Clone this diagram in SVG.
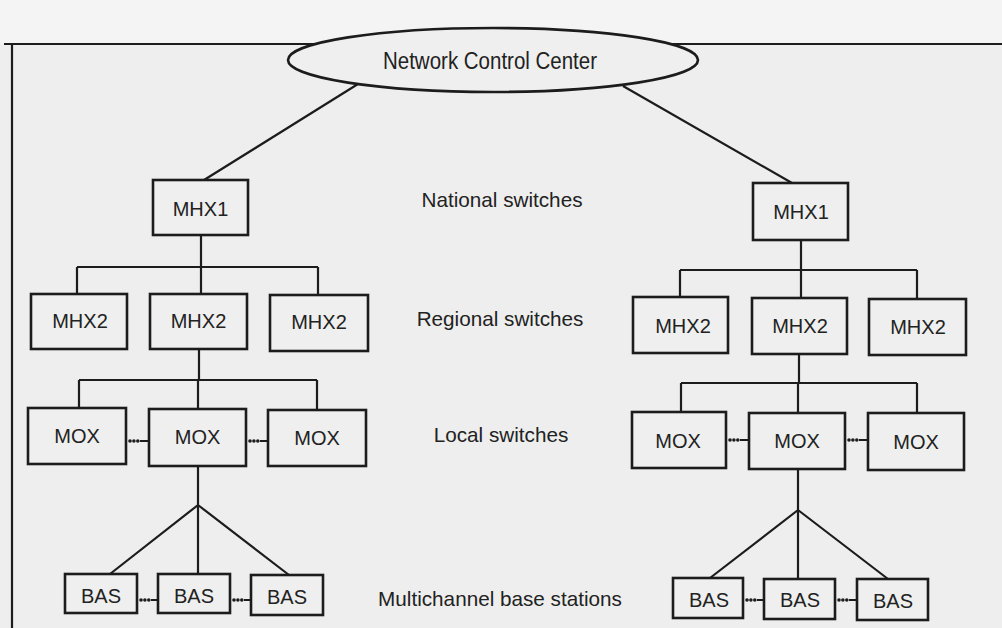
<svg xmlns="http://www.w3.org/2000/svg" width="1002" height="628" viewBox="0 0 1002 628">
<style>
.bg{fill:#eeeeee}
.box{fill:#efefef;stroke:#1c1c1c;stroke-width:2.6}
.ln{fill:none;stroke:#1c1c1c;stroke-width:2.2}
.dot{fill:#1c1c1c}
.nl{font-family:"Liberation Sans",Arial,sans-serif;font-size:20px;fill:#222;text-anchor:middle}
.lv{font-family:"Liberation Sans",Arial,sans-serif;font-size:20.7px;fill:#222;text-anchor:middle}
</style>
<defs>
<g id="dot3">
<circle class="dot" cx="0" cy="0" r="1.8"/>
<circle class="dot" cx="3.9" cy="0" r="1.8"/>
<circle class="dot" cx="7.8" cy="0" r="1.8"/>
</g>
</defs>
<rect class="bg" x="0" y="0" width="1002" height="628"/>
<rect x="0" y="0" width="1002" height="44" fill="#f4f4f4"/>
<g id="frame">
<path class="ln" d="M4 44 H1002 M12 44 V628" stroke-width="2"/>
</g>
<g id="connectors">
<path class="ln" d="M358 84 L204 180 M623 86 L792 183"/>
<path class="ln" d="M201 235 V267 M77 267 H318 M77 267 V294 M201 267 V294 M318 267 V295"/>
<path class="ln" d="M199 349 V380 M79 380 H317 M79 380 V408 M198 380 V409 M317 380 V410"/>
<path class="ln" d="M198 466 V505 L110 574 M198 505 V574 M198 505 L289 575"/>
<path class="ln" d="M801 240 V270 M680 270 H917 M680 270 V297 M801 270 V298 M917 270 V299"/>
<path class="ln" d="M799 354 V383 M681 383 H917 M681 383 V412 M798 383 V413 M917 383 V413"/>
<path class="ln" d="M798 469 V510 L710 578 M798 510 V579 M798 510 L888 579"/>
<use href="#dot3" x="130" y="441"/>
<use href="#dot3" x="250" y="441"/>
<use href="#dot3" x="730" y="440"/>
<use href="#dot3" x="849" y="440"/>
<use href="#dot3" x="141" y="600"/>
<use href="#dot3" x="234" y="600"/>
<use href="#dot3" x="747" y="600"/>
<use href="#dot3" x="839" y="600"/>
<path class="ln" d="M140 441 H149 M260 441 H268 M740 440 H749 M859 440 H868 M151 600 H158 M244 600 H251 M757 600 H764 M849 600 H857"/>
</g>
<g id="ncc">
<ellipse class="box" cx="493" cy="60" rx="205" ry="32"/>
<text x="383" y="69" font-family="'Liberation Sans',Arial,sans-serif" font-size="23" fill="#222" textLength="214" lengthAdjust="spacingAndGlyphs">Network Control Center</text>
</g>
<g id="mhx1-left"><rect class="box" x="153" y="180" width="95" height="55"/><text class="nl" x="200.5" y="216">MHX1</text></g>
<g id="mhx2-left-1"><rect class="box" x="31" y="294" width="96" height="55"/><text class="nl" x="80" y="328">MHX2</text></g>
<g id="mhx2-left-2"><rect class="box" x="150" y="294" width="97" height="55"/><text class="nl" x="198.5" y="328">MHX2</text></g>
<g id="mhx2-left-3"><rect class="box" x="270" y="295" width="98" height="56"/><text class="nl" x="319" y="329">MHX2</text></g>
<g id="mox-left-1"><rect class="box" x="28" y="408" width="98" height="56"/><text class="nl" x="77" y="443">MOX</text></g>
<g id="mox-left-2"><rect class="box" x="149" y="409" width="97" height="57"/><text class="nl" x="197.5" y="444">MOX</text></g>
<g id="mox-left-3"><rect class="box" x="268" y="410" width="98" height="56"/><text class="nl" x="317" y="445">MOX</text></g>
<g id="bas-left-1"><rect class="box" x="65" y="574" width="72" height="39"/><text class="nl" x="101" y="603">BAS</text></g>
<g id="bas-left-2"><rect class="box" x="158" y="574" width="72" height="39"/><text class="nl" x="194" y="603">BAS</text></g>
<g id="bas-left-3"><rect class="box" x="251" y="575" width="72" height="40"/><text class="nl" x="287" y="604">BAS</text></g>
<g id="mhx1-right"><rect class="box" x="753" y="183" width="95" height="57"/><text class="nl" x="801" y="219">MHX1</text></g>
<g id="mhx2-right-1"><rect class="box" x="633" y="297" width="95" height="56"/><text class="nl" x="683" y="333">MHX2</text></g>
<g id="mhx2-right-2"><rect class="box" x="752" y="298" width="95" height="56"/><text class="nl" x="800" y="333">MHX2</text></g>
<g id="mhx2-right-3"><rect class="box" x="869" y="299" width="97" height="56"/><text class="nl" x="918" y="334">MHX2</text></g>
<g id="mox-right-1"><rect class="box" x="632" y="412" width="94" height="56"/><text class="nl" x="678" y="448">MOX</text></g>
<g id="mox-right-2"><rect class="box" x="749" y="413" width="96" height="56"/><text class="nl" x="797" y="448">MOX</text></g>
<g id="mox-right-3"><rect class="box" x="868" y="413" width="96" height="57"/><text class="nl" x="916" y="449">MOX</text></g>
<g id="bas-right-1"><rect class="box" x="673" y="578" width="70" height="40"/><text class="nl" x="709" y="607">BAS</text></g>
<g id="bas-right-2"><rect class="box" x="764" y="579" width="71" height="40"/><text class="nl" x="800" y="607">BAS</text></g>
<g id="bas-right-3"><rect class="box" x="857" y="579" width="71" height="41"/><text class="nl" x="893" y="608">BAS</text></g>
<g id="level-labels">
<text class="lv" x="502" y="207">National switches</text>
<text class="lv" x="500" y="326">Regional switches</text>
<text class="lv" x="501" y="442">Local switches</text>
<text class="lv" x="500" y="606">Multichannel base stations</text>
</g>
</svg>
